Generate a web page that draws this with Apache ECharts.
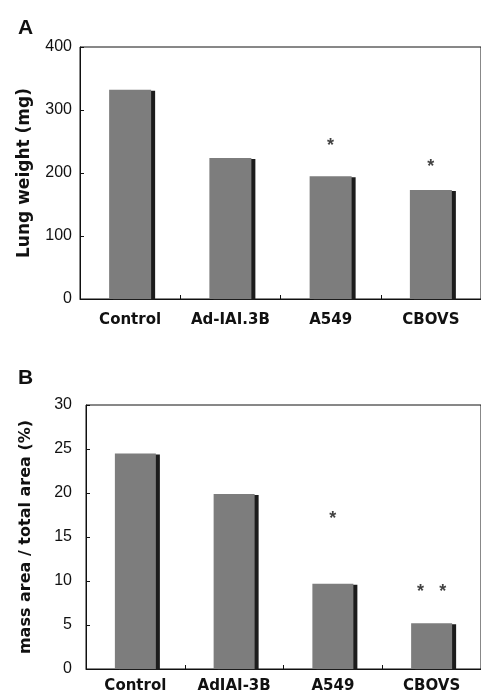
<!DOCTYPE html>
<html>
<head>
<meta charset="utf-8">
<script src="https://cdn.jsdelivr.net/npm/echarts@6/dist/echarts.min.js"></script>
<style>
  html, body { margin: 0; padding: 0; background: #fff; }
  #chart { width: 481px; height: 694px; }
</style>
</head>
<body>
<div id="chart"></div>
<script>
// data
var categoriesA = ["Control", "Ad-IAI.3B", "A549", "CBOVS"];
var categoriesB = ["Control", "AdIAI-3B", "A549", "CBOVS"];
var lungWeight = [332, 224, 195, 173];
var massArea = [24.5, 19.9, 9.7, 5.2];
// asterisk positions (value where the mark sits) and text
var starPosA = [null, null, 243, 210];
var starTextA = ["", "", "*", "*"];
var starPosB = [null, null, 17.0, 8.8];
var starTextB = ["", "", "*", "*   *"];

var chart = echarts.init(document.getElementById("chart"));

var tickFont = { color: "#111", fontSize: 16, fontFamily: "Liberation Sans" };
var boldFont = "DejaVu Sans";

// flat grey bar with a dark drop shadow on the right (the old 3d look)
var barStyle = {
  color: "#7d7d7d",
  borderWidth: 0,
  shadowColor: "#1c1c1c",
  shadowOffsetX: 4,
  shadowOffsetY: 1,
  shadowBlur: 0
};

function yAxis(gridIndex, name, max, interval, margin, gap) {
  return {
    gridIndex: gridIndex,
    type: "value",
    min: 0,
    max: max,
    interval: interval,
    name: name,
    nameLocation: "middle",
    nameRotate: 90,
    nameGap: gap,
    nameTextStyle: { fontFamily: boldFont, fontWeight: "bold", fontSize: gridIndex === 0 ? 17 : 16, color: "#111" },
    axisLine: { show: true, lineStyle: { color: "#111", width: 1 } },
    axisTick: { show: true, inside: true, length: 4, lineStyle: { color: "#111" } },
    axisLabel: Object.assign({ margin: margin }, tickFont),
    splitLine: { show: false }
  };
}

function xAxis(gridIndex, cats, margin) {
  return {
    gridIndex: gridIndex,
    type: "category",
    data: cats,
    axisLine: { show: true, lineStyle: { color: "#111", width: 1 } },
    axisTick: { show: true, inside: true, length: 4, lineStyle: { color: "#111" } },
    axisLabel: { interval: 0, margin: margin, fontFamily: boldFont, fontWeight: "bold", fontSize: 15, color: "#111" }
  };
}

function stars(gridIndex, pos, text) {
  return {
    type: "scatter",
    xAxisIndex: gridIndex,
    yAxisIndex: gridIndex,
    data: pos,
    symbolSize: 0,
    silent: true,
    label: {
      show: true,
      position: "inside",
      formatter: function (p) { return text[p.dataIndex]; },
      fontFamily: "Liberation Sans",
      fontWeight: "bold",
      fontSize: 18,
      color: "#111"
    }
  };
}

chart.setOption({
  animation: false,
  backgroundColor: "#fff",
  title: [
    { text: "A", left: 13, top: 13, textStyle: { fontFamily: "Liberation Sans", fontWeight: "bold", fontSize: 21, color: "#111" } },
    { text: "B", left: 13, top: 363, textStyle: { fontFamily: "Liberation Sans", fontWeight: "bold", fontSize: 21, color: "#111" } }
  ],
  grid: [
    { left: 80, top: 47, width: 404, height: 252, show: true, borderColor: "#111", borderWidth: 1, backgroundColor: "transparent" },
    { left: 86, top: 405, width: 400, height: 265, show: true, borderColor: "#111", borderWidth: 1, backgroundColor: "transparent" }
  ],
  xAxis: [xAxis(0, categoriesA, 14), xAxis(1, categoriesB, 10)],
  yAxis: [
    yAxis(0, "Lung weight (mg)", 400, 100, 8, 47),
    yAxis(1, "mass area / total area (%)", 30, 5, 14, 52)
  ],
  series: [
    { type: "bar", xAxisIndex: 0, yAxisIndex: 0, data: lungWeight, barWidth: 42, itemStyle: barStyle },
    { type: "bar", xAxisIndex: 1, yAxisIndex: 1, data: massArea, barWidth: 41, itemStyle: barStyle },
    stars(0, starPosA, starTextA),
    stars(1, starPosB, starTextB)
  ]
});
</script>
</body>
</html>
